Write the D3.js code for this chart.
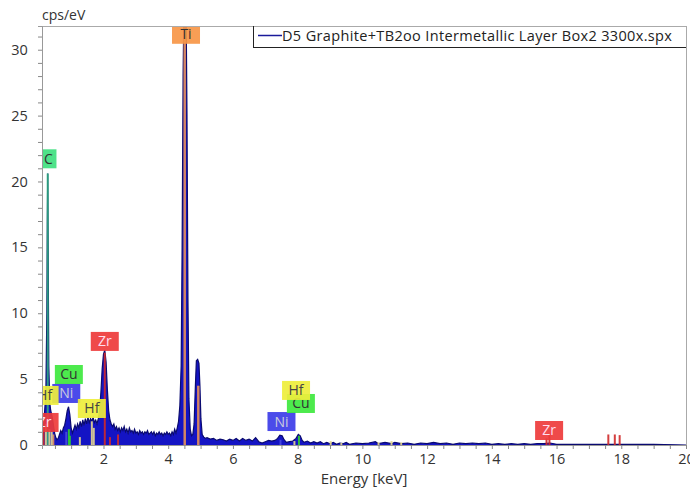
<!DOCTYPE html>
<html><head><meta charset="utf-8">
<script src="https://cdn.jsdelivr.net/npm/d3@7"></script>
<style>
html,body{margin:0;padding:0;background:#fff;}
svg{display:block;font-family:"Open Sans",sans-serif;}
</style></head>
<body><svg id="chart" width="690" height="488"></svg>
<script>
// ---------- DATA ----------
const seriesName = "D5 Graphite+TB2oo Intermetallic Layer Box2 3300x.spx";
const xTickValues = [2,4,6,8,10,12,14,16,18,20];
const yTickValues = [0,5,10,15,20,25,30];
// spectrum [energy keV, cps/eV]
const spectrum = [
[0.10,0.3],[0.14,1.2],[0.18,2.5],[0.22,4],[0.25,10],[0.265,17],[0.277,20.6],[0.29,15],[0.31,6],[0.34,3.2],
[0.37,2.6],[0.40,2.3],[0.43,1.9],[0.46,1.4],[0.49,0.9],[0.52,0.6],[0.56,0.4],[0.60,0.5],[0.64,0.8],[0.68,1.1],
[0.72,0.9],[0.76,1.3],[0.80,1.5],[0.84,2.0],[0.88,2.6],[0.92,2.9],[0.96,2.3],[1.00,1.3],[1.04,0.9],[1.08,1.2],
[1.12,1.5],[1.16,1.2],[1.20,1.6],[1.24,1.3],[1.28,1.8],[1.32,1.4],[1.36,1.9],[1.40,1.5],[1.44,2.0],[1.48,1.6],
[1.52,2.1],[1.56,1.7],[1.60,2.0],[1.64,1.8],[1.68,2.1],[1.72,1.7],[1.76,1.9],[1.80,1.6],[1.84,2.0],[1.88,2.6],
[1.92,4.0],[1.96,5.8],[2.00,6.9],[2.04,7.2],[2.08,6.3],[2.12,4.2],[2.16,2.6],[2.20,1.9],[2.24,1.6],[2.28,1.4],
[2.32,1.6],[2.36,1.2],[2.40,1.4],[2.44,1.1],[2.48,1.3],[2.52,1.0],[2.56,1.3],[2.60,1.1],[2.64,1.4],[2.68,1.0],
[2.72,1.2],[2.76,0.9],[2.80,1.3],[2.84,1.0],[2.88,1.1],[2.92,0.9],[2.96,1.2],[3.00,0.9],[3.04,1.0],[3.08,0.8],
[3.12,1.1],[3.16,0.9],[3.20,1.0],[3.24,0.8],[3.28,1.0],[3.32,0.9],[3.36,1.1],[3.40,0.8],[3.44,0.9],[3.48,1.0],
[3.52,0.8],[3.56,1.0],[3.60,0.7],[3.64,0.9],[3.68,0.8],[3.72,1.0],[3.76,0.8],[3.80,0.9],[3.84,0.7],[3.88,0.9],
[3.92,0.8],[3.96,1.0],[4.00,0.8],[4.04,0.9],[4.08,0.7],[4.12,1.0],[4.16,0.8],[4.20,1.2],[4.24,0.9],[4.28,1.3],
[4.32,1.8],[4.36,3.0],[4.40,6.0],[4.43,15],[4.46,28],[4.49,34],[4.55,34],[4.58,25],[4.61,11],[4.64,3.5],
[4.68,1.2],[4.72,0.7],[4.76,0.8],[4.80,1.6],[4.84,4.5],[4.87,6.4],[4.91,6.5],[4.95,6.2],[4.98,4.5],[5.01,2.0],
[5.05,0.8],[5.10,0.6],[5.15,0.5],[5.20,0.55],[5.30,0.45],[5.40,0.5],[5.50,0.35],[5.60,0.45],[5.70,0.4],[5.80,0.3],
[5.90,0.45],[6.00,0.35],[6.10,0.5],[6.20,0.3],[6.30,0.5],[6.40,0.35],[6.50,0.45],[6.60,0.3],[6.70,0.55],[6.75,0.4],
[6.80,0.25],[6.90,0.15],[7.00,0.25],[7.10,0.35],[7.20,0.3],[7.30,0.35],[7.38,0.5],[7.45,0.75],[7.52,0.7],[7.58,0.4],
[7.65,0.2],[7.75,0.25],[7.85,0.3],[7.95,0.5],[8.02,0.8],[8.08,0.7],[8.14,0.35],[8.20,0.2],[8.30,0.3],[8.40,0.15],
[8.50,0.25],[8.60,0.15],[8.70,0.25],[8.80,0.1],[8.90,0.2],[9.00,0.1],[9.10,0.2],[9.20,0.05],[9.30,0.15],[9.40,0.1],
[9.50,0.2],[9.60,0.05],[9.80,0.15],[10.0,0.1],[10.2,0.15],[10.4,0.25],[10.5,0.1],[10.7,0.2],[10.9,0.1],[11.0,0.2],
[11.2,0.1],[11.4,0.15],[11.6,0.05],[11.8,0.15],[12.0,0.1],[12.2,0.2],[12.4,0.1],[12.6,0.15],[12.8,0.05],[13.0,0.15],
[13.2,0.1],[13.4,0.15],[13.6,0.1],[13.8,0.15],[14.0,0.05],[14.2,0.1],[14.4,0.05],[14.6,0.1],[14.8,0.05],[15.0,0.1],
[15.2,0.05],[15.4,0.1],[15.6,0.1],[15.8,0.15],[16.0,0.05],[16.5,0.05],[17.0,0.05],[17.5,0.05],[18.0,0.05],[19.0,0.05],[20.0,0]
];
// element marker lines [element, energy keV, height cps/eV]
const elementLines = [
["C",0.277,20.6],["Ti",4.51,31.5],["Ti",4.93,4.5],["Ti",0.45,0.8],
["Zr",2.04,7.0],["Zr",2.20,0.6],["Zr",2.45,0.8],["Zr",0.15,1.4],
["Hf",1.64,1.8],["Hf",1.70,1.3],["Hf",1.27,0.6],["Hf",0.22,1.6],["Hf",0.33,1.2],["Hf",0.40,1.0],
["Cu",0.93,1.2],["Cu",0.96,0.7],["Ni",0.85,1.0],
["Ni",7.47,0.4],["Cu",8.04,0.7],["Hf",7.90,0.3],["Hf",9.02,0.3],["Hf",9.35,0.15],["Hf",10.5,0.2],
["Hf",10.9,0.3],["Hf",11.2,0.2],["Zr",15.69,0.5],["Zr",15.78,0.8],["Zr",17.6,0.8],["Zr",17.8,0.8],["Zr",17.95,0.75]
];
// element labels [text, energy keV, label level cps/eV]
const elementLabels = [
["C",0.30,21.0],["Ti",4.55,30.45],["Zr",2.04,7.14],["Cu",0.93,4.63],["Ni",0.85,3.19],
["Hf",1.64,2.05],["Hf",0.18,3.04],["Zr",0.18,0.99],["Ni",7.50,1.06],["Cu",8.10,2.43],
["Hf",7.95,3.42],["Zr",15.77,0.38]
];
const elementColors = {C:"#3fdf7f",Ti:"#f79646",Zr:"#ee3b3b",Cu:"#3ee83e",Ni:"#3c3ce8",Hf:"#eeee3c"};
const lineColors = {C:"#2eaa80",Ti:"#e8915a",Zr:"#d02a2a",Cu:"#30d030",Ni:"#4a4ae0",Hf:"#e6d890"};
const labelText = {C:"#333",Ti:"#333",Zr:"#fde",Cu:"#333",Ni:"#ccd",Hf:"#444"};

// ---------- CHART ----------
const svg = d3.select("#chart");
const L=42, R=686, T=26, B=445;
const x = d3.scaleLinear().domain([0.1,20]).range([L,R]);
const y = d3.scaleLinear().domain([0,31.8]).range([B,T]);

svg.append("defs").append("clipPath").attr("id","clip")
  .append("rect").attr("x",L).attr("y",T).attr("width",R-L).attr("height",B-T);

const plot = svg.append("g").attr("clip-path","url(#clip)");

// spectrum
const area = d3.area().x(d=>x(d[0])).y0(y(0)).y1(d=>y(d[1]));
const line = d3.line().x(d=>x(d[0])).y(d=>y(d[1]));
plot.append("path").datum(spectrum).attr("d",area).attr("fill","#1414c4");
plot.append("path").datum(spectrum).attr("d",line).attr("fill","none").attr("stroke","#0a0a70").attr("stroke-width",1.2);

// element lines
plot.selectAll("line.el").data(elementLines).join("line")
  .attr("x1",d=>x(d[1])).attr("x2",d=>x(d[1]))
  .attr("y1",y(0)).attr("y2",d=>y(d[2]))
  .attr("stroke",d=>lineColors[d[0]]).attr("stroke-width",d=>d[0]==="Ti"&&d[1]>4?2.5:2)
  .attr("opacity",0.9);

// labels
const lab = plot.selectAll("g.lab").data(elementLabels).join("g")
  .attr("transform",d=>`translate(${x(d[1])},${y(d[2])})`);
lab.append("rect")
  .attr("x",d=>d[0].length>1?-14:-8).attr("y",-19)
  .attr("width",d=>d[0].length>1?28:16).attr("height",19)
  .attr("fill",d=>elementColors[d[0]]).attr("opacity",0.92);
lab.append("text").attr("x",0).attr("y",-4.5).attr("text-anchor","middle")
  .attr("font-size",14).attr("fill",d=>labelText[d[0]]).text(d=>d[0]);

// frame
svg.append("line").attr("x1",L).attr("x2",R).attr("y1",T+0.5).attr("y2",T+0.5).attr("stroke","#aaa");
svg.append("line").attr("x1",R+0.5).attr("x2",R+0.5).attr("y1",T).attr("y2",B).attr("stroke","#aaa");

// axes
const xAxis = d3.axisBottom(x).tickValues(d3.range(0.5,20.01,0.5)).tickSize(4)
  .tickFormat(d=>xTickValues.includes(d)?String(d):"");
const gx = svg.append("g").attr("transform",`translate(0,${B})`).call(xAxis);
gx.select(".domain").attr("stroke","#999");
gx.selectAll(".tick line").attr("stroke","#888");
gx.selectAll("text").attr("font-size",14.5).attr("fill","#333").attr("dy","0.85em").attr("font-family","Open Sans");

const yAxis = d3.axisLeft(y).tickValues(d3.range(0,31.01,1)).tickSize(4)
  .tickFormat(d=>yTickValues.includes(d)?String(d):"");
const gy = svg.append("g").attr("transform",`translate(${L},0)`).call(yAxis);
gy.select(".domain").attr("stroke","#999");
gy.selectAll(".tick line").attr("stroke","#888");
gy.selectAll("text").attr("font-size",14.5).attr("fill","#333").attr("dx","-0.5em").attr("font-family","Open Sans");

svg.append("text").attr("x",L).attr("y",20).attr("font-size",14).attr("fill","#333").text("cps/eV");
svg.append("text").attr("x",364).attr("y",484).attr("text-anchor","middle")
  .attr("font-size",15).attr("fill","#333").text("Energy [keV]");

// legend
const lg = svg.append("g");
lg.append("line").attr("x1",253.5).attr("x2",253.5).attr("y1",T).attr("y2",48).attr("stroke","#222");
lg.append("line").attr("x1",253).attr("x2",R).attr("y1",47.5).attr("y2",47.5).attr("stroke","#222");
lg.append("line").attr("x1",258).attr("x2",282).attr("y1",35.5).attr("y2",35.5).attr("stroke","#1a1a9a").attr("stroke-width",1.5);
lg.append("text").attr("x",282).attr("y",41).attr("font-size",14.5).attr("fill","#222").attr("letter-spacing",0.35).text(seriesName);
</script></body></html>
